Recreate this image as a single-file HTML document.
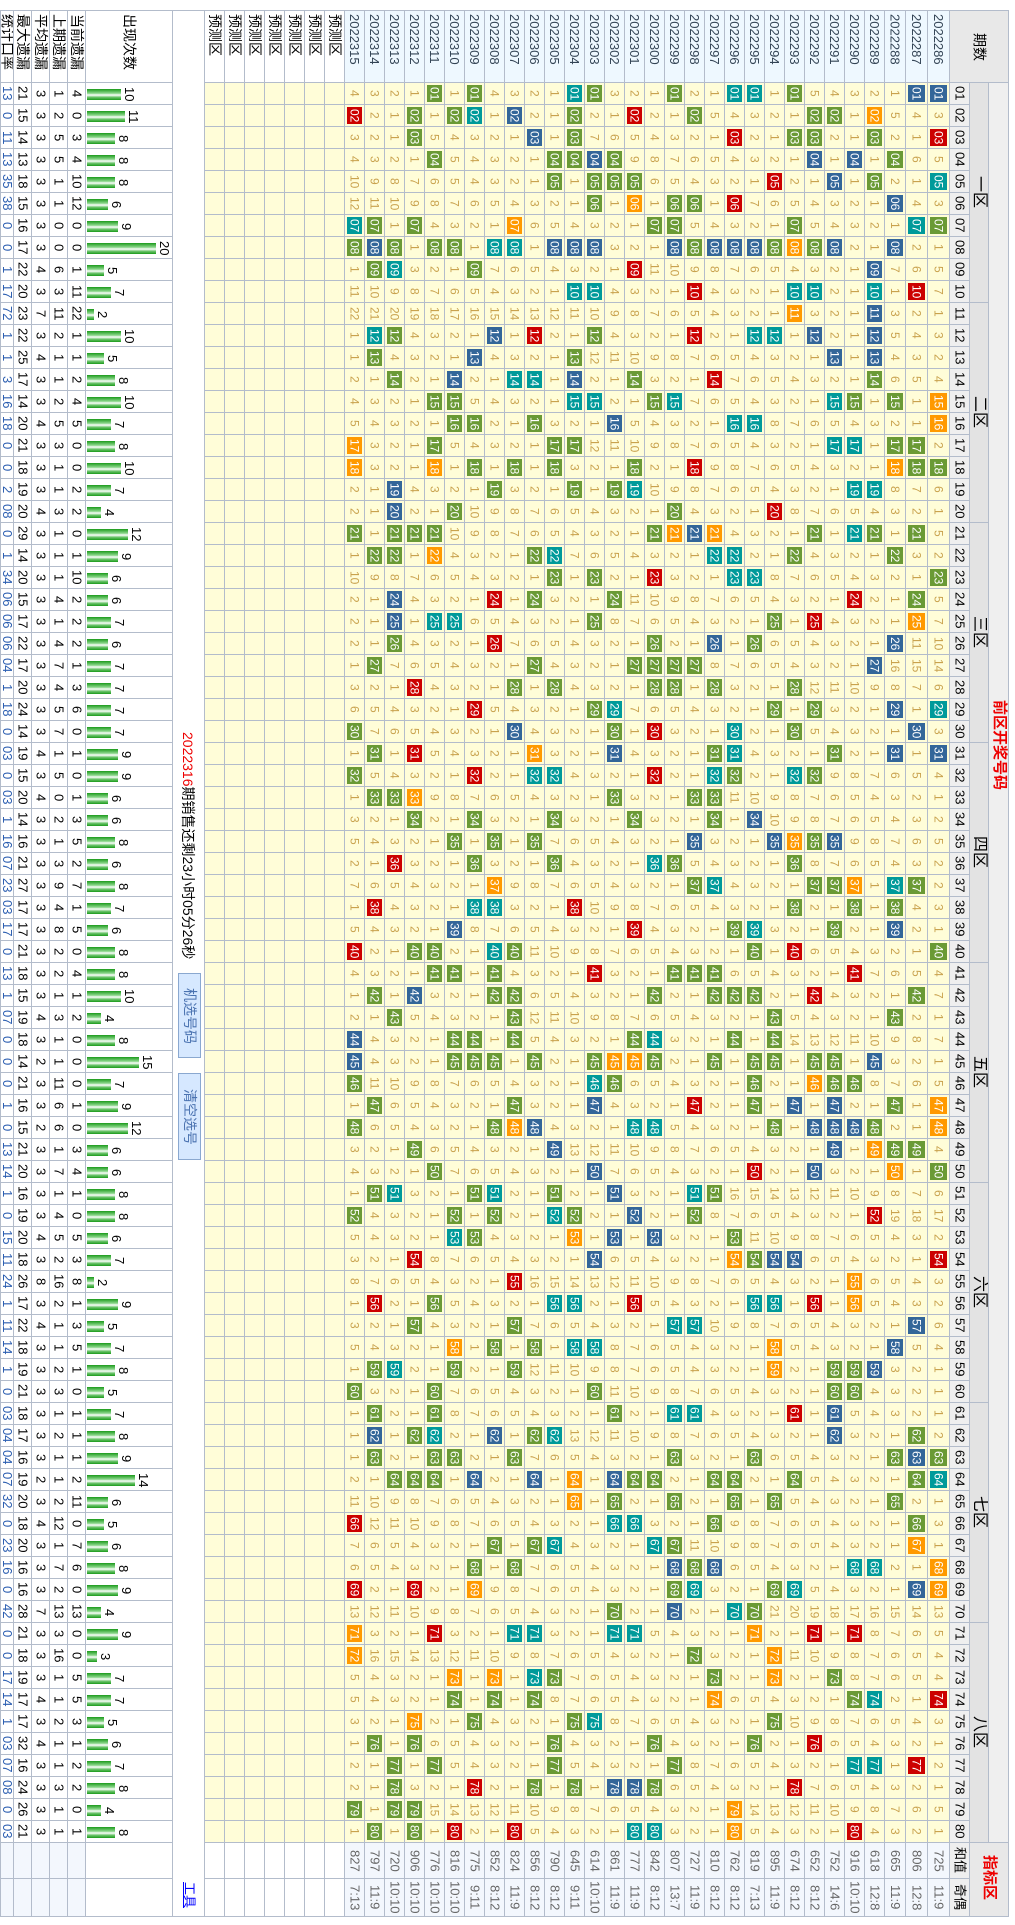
<!DOCTYPE html>
<html><head><meta charset="utf-8"><style>
body{margin:0;width:1015px;height:1925px;background:#fff;overflow:hidden;position:relative;font-family:"Liberation Sans","Noto Sans CJK SC",sans-serif}
table{position:absolute;left:0;top:10px;border-collapse:collapse;table-layout:fixed;width:1009px}
td{border:1px solid #b3bccb;padding:0;writing-mode:vertical-rl;text-orientation:sideways;text-align:center;font-size:12px;line-height:18px;background:#fffdd8;color:#c9a24e;overflow:hidden;white-space:nowrap}
tr.d{height:22px}
tr.d td:nth-child(-n+5){background:#fff;color:#000;font-size:13px}
tr.d td:nth-child(1){color:#2a5db0}
tr.d td:nth-child(6){writing-mode:horizontal-tb;background:#fff;text-align:left;color:#000}
tr.d td:nth-child(6) i{display:inline-block;height:11px;vertical-align:middle;margin-left:1px;background:linear-gradient(#1a9a1a,#8fd88f 40%,#fff 55%,#6cc46c 75%,#1a9a1a)}
tr.d td:nth-child(6) b{display:inline-block;writing-mode:vertical-rl;text-orientation:sideways;font-weight:normal;font-size:13px;vertical-align:middle;margin-left:2px;line-height:13px}
td.g{background:#6a9a35;color:#fff;box-shadow:inset 0 0 0 2px #fffdd8}
td.b{background:#336699;color:#fff;box-shadow:inset 0 0 0 2px #fffdd8}
td.t{background:#009a9a;color:#fff;box-shadow:inset 0 0 0 2px #fffdd8}
td.r{background:#cc0000;color:#fff;box-shadow:inset 0 0 0 2px #fffdd8}
td.o{background:#ff9900;color:#fff;box-shadow:inset 0 0 0 2px #fffdd8}
td.n{background:#efefef;color:#000;font-size:13px}
td.z{background:#e3e3e3;color:#000;font-size:16px}
td.q{background:#efefef}
tr.hd{height:72px}
tr.hd td{background:#fff;color:#000;font-size:14px;text-align:start;padding-top:3px;line-height:17px}
tr.hd td.dl{background:#eef8ff;color:#345;font-size:13px}
tr.hd td.qs{background:#e8e8e8;text-align:center;padding:0}
tr.hd td.inf{background:#fff}
tr.bt td{background:#f3f7fd;color:#666;font-size:13px}
tr.bt td.w{background:#fff}
tr.bt td.n{background:#efefef;color:#000}
tr.bt td.z{background:#e8e8e8}
.ov{position:absolute;writing-mode:vertical-rl;text-orientation:sideways;white-space:nowrap}
.btn{position:absolute;width:21px;background:#d6e8ff;border:1px solid #8aa8d0;color:#4a72b0;font-size:14px;writing-mode:vertical-rl;text-orientation:sideways;text-align:center;line-height:20px}
</style></head><body>
<table>
<colgroup><col style="width:13px"><col style="width:18px"><col style="width:18px"><col style="width:18px"><col style="width:18px"><col style="width:87px"><col style="width:32px"><col style="width:20px"><col style="width:20px"><col style="width:20px"><col style="width:20px"><col style="width:20px"><col style="width:20px"><col style="width:20px"><col style="width:20px"><col style="width:20px"><col style="width:20px"><col style="width:20px"><col style="width:20px"><col style="width:20px"><col style="width:20px"><col style="width:20px"><col style="width:20px"><col style="width:20px"><col style="width:20px"><col style="width:20px"><col style="width:20px"><col style="width:20px"><col style="width:20px"><col style="width:20px"><col style="width:20px"><col style="width:20px"><col style="width:20px"><col style="width:20px"><col style="width:20px"><col style="width:20px"><col style="width:20px"><col style="width:20px"><col style="width:20px"><col style="width:20px"><col style="width:20px"><col style="width:21px"><col style="width:22px"><col style="width:22px"></colgroup>
<tr class="hd"><td>统计口率</td><td>最大遗漏</td><td>平均遗漏</td><td>上期遗漏</td><td>当前遗漏</td><td>出现次数</td><td class="inf" rowspan="83"></td><td>预测区</td><td>预测区</td><td>预测区</td><td>预测区</td><td>预测区</td><td>预测区</td><td>预测区</td><td class="dl">2022315</td><td class="dl">2022314</td><td class="dl">2022313</td><td class="dl">2022312</td><td class="dl">2022311</td><td class="dl">2022310</td><td class="dl">2022309</td><td class="dl">2022308</td><td class="dl">2022307</td><td class="dl">2022306</td><td class="dl">2022305</td><td class="dl">2022304</td><td class="dl">2022303</td><td class="dl">2022302</td><td class="dl">2022301</td><td class="dl">2022300</td><td class="dl">2022299</td><td class="dl">2022298</td><td class="dl">2022297</td><td class="dl">2022296</td><td class="dl">2022295</td><td class="dl">2022294</td><td class="dl">2022293</td><td class="dl">2022292</td><td class="dl">2022291</td><td class="dl">2022290</td><td class="dl">2022289</td><td class="dl">2022288</td><td class="dl">2022287</td><td class="dl">2022286</td><td class="qs" colspan="3">期数</td></tr>
<tr class="d"><td>13</td><td>21</td><td>3</td><td>1</td><td>4</td><td><i style="width:34px"></i><b>10</b></td><td></td><td></td><td></td><td></td><td></td><td></td><td></td><td>4</td><td>3</td><td>2</td><td>1</td><td class="g">01</td><td>1</td><td class="g">01</td><td>4</td><td>3</td><td>2</td><td>1</td><td class="t">01</td><td class="g">01</td><td>3</td><td>2</td><td>1</td><td class="g">01</td><td>2</td><td>1</td><td class="t">01</td><td class="t">01</td><td>1</td><td class="g">01</td><td>5</td><td>4</td><td>3</td><td>2</td><td>1</td><td class="b">01</td><td class="b">01</td><td class="n">01</td><td class="z" rowspan="10">一区</td><td class="q" rowspan="80"></td></tr>
<tr class="d"><td>0</td><td>15</td><td>3</td><td>2</td><td>0</td><td><i style="width:38px"></i><b>11</b></td><td></td><td></td><td></td><td></td><td></td><td></td><td></td><td class="r">02</td><td>2</td><td>1</td><td class="g">02</td><td>1</td><td class="g">02</td><td class="t">02</td><td>1</td><td class="b">02</td><td>2</td><td>1</td><td class="g">02</td><td>2</td><td>1</td><td class="r">02</td><td>2</td><td>1</td><td class="g">02</td><td>5</td><td>4</td><td>3</td><td>2</td><td>1</td><td class="g">02</td><td class="g">02</td><td>1</td><td class="o">02</td><td>5</td><td>4</td><td>3</td><td class="n">02</td></tr>
<tr class="d"><td>11</td><td>14</td><td>3</td><td>5</td><td>3</td><td><i style="width:28px"></i><b>8</b></td><td></td><td></td><td></td><td></td><td></td><td></td><td></td><td>3</td><td>2</td><td>1</td><td class="g">03</td><td>5</td><td>4</td><td>3</td><td>2</td><td>1</td><td class="b">03</td><td>1</td><td class="g">03</td><td>7</td><td>6</td><td>5</td><td>4</td><td>3</td><td>2</td><td>1</td><td class="r">03</td><td>2</td><td>1</td><td class="g">03</td><td class="g">03</td><td>2</td><td>1</td><td class="g">03</td><td>2</td><td>1</td><td class="r">03</td><td class="n">03</td></tr>
<tr class="d"><td>13</td><td>13</td><td>3</td><td>5</td><td>4</td><td><i style="width:28px"></i><b>8</b></td><td></td><td></td><td></td><td></td><td></td><td></td><td></td><td>4</td><td>3</td><td>2</td><td>1</td><td class="g">04</td><td>5</td><td>4</td><td>3</td><td>2</td><td>1</td><td class="g">04</td><td class="g">04</td><td class="b">04</td><td class="g">04</td><td>9</td><td>8</td><td>7</td><td>6</td><td>5</td><td>4</td><td>3</td><td>2</td><td>1</td><td class="b">04</td><td>1</td><td class="b">04</td><td>1</td><td class="g">04</td><td>6</td><td>5</td><td class="n">04</td></tr>
<tr class="d"><td>35</td><td>18</td><td>3</td><td>1</td><td>10</td><td><i style="width:28px"></i><b>8</b></td><td></td><td></td><td></td><td></td><td></td><td></td><td></td><td>10</td><td>9</td><td>8</td><td>7</td><td>6</td><td>5</td><td>4</td><td>3</td><td>2</td><td>1</td><td class="g">05</td><td>1</td><td class="g">05</td><td class="g">05</td><td class="g">05</td><td>6</td><td>5</td><td>4</td><td>3</td><td>2</td><td>1</td><td class="r">05</td><td>2</td><td>1</td><td class="b">05</td><td>1</td><td class="g">05</td><td>2</td><td>1</td><td class="t">05</td><td class="n">05</td></tr>
<tr class="d"><td>38</td><td>15</td><td>3</td><td>1</td><td>12</td><td><i style="width:21px"></i><b>6</b></td><td></td><td></td><td></td><td></td><td></td><td></td><td></td><td>12</td><td>11</td><td>10</td><td>9</td><td>8</td><td>7</td><td>6</td><td>5</td><td>4</td><td>3</td><td>2</td><td>1</td><td class="g">06</td><td>1</td><td class="o">06</td><td>1</td><td class="g">06</td><td class="g">06</td><td>1</td><td class="r">06</td><td>7</td><td>6</td><td>5</td><td>4</td><td>3</td><td>2</td><td>1</td><td class="b">06</td><td>4</td><td>3</td><td class="n">06</td></tr>
<tr class="d"><td>0</td><td>16</td><td>3</td><td>0</td><td>0</td><td><i style="width:31px"></i><b>9</b></td><td></td><td></td><td></td><td></td><td></td><td></td><td></td><td class="t">07</td><td class="g">07</td><td>1</td><td class="g">07</td><td>4</td><td>3</td><td>2</td><td>1</td><td class="o">07</td><td>6</td><td>5</td><td>4</td><td>3</td><td>2</td><td>1</td><td class="g">07</td><td class="g">07</td><td>5</td><td>4</td><td>3</td><td>2</td><td>1</td><td class="g">07</td><td>5</td><td>4</td><td>3</td><td>2</td><td>1</td><td class="t">07</td><td class="g">07</td><td class="n">07</td></tr>
<tr class="d"><td>0</td><td>17</td><td>3</td><td>0</td><td>0</td><td><i style="width:69px"></i><b>20</b></td><td></td><td></td><td></td><td></td><td></td><td></td><td></td><td class="g">08</td><td class="b">08</td><td class="g">08</td><td>1</td><td class="g">08</td><td class="g">08</td><td>1</td><td class="t">08</td><td class="t">08</td><td>1</td><td class="b">08</td><td class="b">08</td><td class="b">08</td><td>3</td><td>2</td><td>1</td><td class="b">08</td><td class="g">08</td><td class="b">08</td><td class="b">08</td><td class="b">08</td><td class="g">08</td><td class="o">08</td><td class="g">08</td><td class="b">08</td><td>2</td><td>1</td><td class="b">08</td><td>2</td><td>1</td><td class="n">08</td></tr>
<tr class="d"><td>1</td><td>22</td><td>4</td><td>6</td><td>1</td><td><i style="width:17px"></i><b>5</b></td><td></td><td></td><td></td><td></td><td></td><td></td><td></td><td>1</td><td class="g">09</td><td class="t">09</td><td>3</td><td>2</td><td>1</td><td class="g">09</td><td>7</td><td>6</td><td>5</td><td>4</td><td>3</td><td>2</td><td>1</td><td class="r">09</td><td>11</td><td>10</td><td>9</td><td>8</td><td>7</td><td>6</td><td>5</td><td>4</td><td>3</td><td>2</td><td>1</td><td class="b">09</td><td>7</td><td>6</td><td>5</td><td class="n">09</td></tr>
<tr class="d"><td>17</td><td>20</td><td>3</td><td>3</td><td>11</td><td><i style="width:24px"></i><b>7</b></td><td></td><td></td><td></td><td></td><td></td><td></td><td></td><td>11</td><td>10</td><td>9</td><td>8</td><td>7</td><td>6</td><td>5</td><td>4</td><td>3</td><td>2</td><td>1</td><td class="t">10</td><td class="t">10</td><td>4</td><td>3</td><td>2</td><td>1</td><td class="r">10</td><td>4</td><td>3</td><td>2</td><td>1</td><td class="t">10</td><td class="t">10</td><td>2</td><td>1</td><td class="t">10</td><td>1</td><td class="r">10</td><td>7</td><td class="n">10</td></tr>
<tr class="d"><td>72</td><td>23</td><td>7</td><td>11</td><td>22</td><td><i style="width:7px"></i><b>2</b></td><td></td><td></td><td></td><td></td><td></td><td></td><td></td><td>22</td><td>21</td><td>20</td><td>19</td><td>18</td><td>17</td><td>16</td><td>15</td><td>14</td><td>13</td><td>12</td><td>11</td><td>10</td><td>9</td><td>8</td><td>7</td><td>6</td><td>5</td><td>4</td><td>3</td><td>2</td><td>1</td><td class="o">11</td><td>3</td><td>2</td><td>1</td><td class="b">11</td><td>3</td><td>2</td><td>1</td><td class="n">11</td><td class="z" rowspan="10">二区</td></tr>
<tr class="d"><td>1</td><td>22</td><td>3</td><td>2</td><td>1</td><td><i style="width:34px"></i><b>10</b></td><td></td><td></td><td></td><td></td><td></td><td></td><td></td><td>1</td><td class="t">12</td><td class="g">12</td><td>4</td><td>3</td><td>2</td><td>1</td><td class="b">12</td><td>1</td><td class="r">12</td><td>2</td><td>1</td><td class="g">12</td><td>4</td><td>3</td><td>2</td><td>1</td><td class="r">12</td><td>2</td><td>1</td><td class="t">12</td><td class="t">12</td><td>1</td><td class="b">12</td><td>2</td><td>1</td><td class="b">12</td><td>5</td><td>4</td><td>3</td><td class="n">12</td></tr>
<tr class="d"><td>1</td><td>25</td><td>4</td><td>1</td><td>1</td><td><i style="width:17px"></i><b>5</b></td><td></td><td></td><td></td><td></td><td></td><td></td><td></td><td>1</td><td class="g">13</td><td>4</td><td>3</td><td>2</td><td>1</td><td class="b">13</td><td>4</td><td>3</td><td>2</td><td>1</td><td class="g">13</td><td>12</td><td>11</td><td>10</td><td>9</td><td>8</td><td>7</td><td>6</td><td>5</td><td>4</td><td>3</td><td>2</td><td>1</td><td class="b">13</td><td>1</td><td class="b">13</td><td>4</td><td>3</td><td>2</td><td class="n">13</td></tr>
<tr class="d"><td>3</td><td>17</td><td>3</td><td>1</td><td>2</td><td><i style="width:28px"></i><b>8</b></td><td></td><td></td><td></td><td></td><td></td><td></td><td></td><td>2</td><td>1</td><td class="g">14</td><td>2</td><td>1</td><td class="b">14</td><td>2</td><td>1</td><td class="t">14</td><td class="t">14</td><td>1</td><td class="b">14</td><td>2</td><td>1</td><td class="g">14</td><td>3</td><td>2</td><td>1</td><td class="r">14</td><td>7</td><td>6</td><td>5</td><td>4</td><td>3</td><td>2</td><td>1</td><td class="g">14</td><td>6</td><td>5</td><td>4</td><td class="n">14</td></tr>
<tr class="d"><td>16</td><td>14</td><td>3</td><td>2</td><td>4</td><td><i style="width:34px"></i><b>10</b></td><td></td><td></td><td></td><td></td><td></td><td></td><td></td><td>4</td><td>3</td><td>2</td><td>1</td><td class="g">15</td><td class="g">15</td><td>5</td><td>4</td><td>3</td><td>2</td><td>1</td><td class="t">15</td><td class="t">15</td><td>2</td><td>1</td><td class="g">15</td><td class="t">15</td><td>7</td><td>6</td><td>5</td><td>4</td><td>3</td><td>2</td><td>1</td><td class="t">15</td><td class="g">15</td><td>1</td><td class="g">15</td><td>1</td><td class="o">15</td><td class="n">15</td></tr>
<tr class="d"><td>18</td><td>20</td><td>4</td><td>5</td><td>5</td><td><i style="width:24px"></i><b>7</b></td><td></td><td></td><td></td><td></td><td></td><td></td><td></td><td>5</td><td>4</td><td>3</td><td>2</td><td>1</td><td class="g">16</td><td class="g">16</td><td>2</td><td>1</td><td class="g">16</td><td>3</td><td>2</td><td>1</td><td class="b">16</td><td>5</td><td>4</td><td>3</td><td>2</td><td>1</td><td class="t">16</td><td class="t">16</td><td>8</td><td>7</td><td>6</td><td>5</td><td>4</td><td>3</td><td>2</td><td>1</td><td class="o">16</td><td class="n">16</td></tr>
<tr class="d"><td>0</td><td>21</td><td>3</td><td>3</td><td>0</td><td><i style="width:28px"></i><b>8</b></td><td></td><td></td><td></td><td></td><td></td><td></td><td></td><td class="o">17</td><td>3</td><td>2</td><td>1</td><td class="g">17</td><td>5</td><td>4</td><td>3</td><td>2</td><td>1</td><td class="g">17</td><td class="g">17</td><td>12</td><td>11</td><td>10</td><td>9</td><td>8</td><td>7</td><td>6</td><td>5</td><td>4</td><td>3</td><td>2</td><td>1</td><td class="t">17</td><td class="t">17</td><td>1</td><td class="g">17</td><td class="g">17</td><td>2</td><td class="n">17</td></tr>
<tr class="d"><td>0</td><td>18</td><td>3</td><td>1</td><td>0</td><td><i style="width:34px"></i><b>10</b></td><td></td><td></td><td></td><td></td><td></td><td></td><td></td><td class="o">18</td><td>3</td><td>2</td><td>1</td><td class="o">18</td><td>1</td><td class="g">18</td><td>1</td><td class="g">18</td><td>1</td><td class="g">18</td><td>3</td><td>2</td><td>1</td><td class="g">18</td><td>2</td><td>1</td><td class="r">18</td><td>9</td><td>8</td><td>7</td><td>6</td><td>5</td><td>4</td><td>3</td><td>2</td><td>1</td><td class="o">18</td><td class="g">18</td><td class="g">18</td><td class="n">18</td></tr>
<tr class="d"><td>2</td><td>19</td><td>3</td><td>1</td><td>2</td><td><i style="width:24px"></i><b>7</b></td><td></td><td></td><td></td><td></td><td></td><td></td><td></td><td>2</td><td>1</td><td class="b">19</td><td>4</td><td>3</td><td>2</td><td>1</td><td class="g">19</td><td>3</td><td>2</td><td>1</td><td class="g">19</td><td>1</td><td class="g">19</td><td class="t">19</td><td>10</td><td>9</td><td>8</td><td>7</td><td>6</td><td>5</td><td>4</td><td>3</td><td>2</td><td>1</td><td class="t">19</td><td class="t">19</td><td>8</td><td>7</td><td>6</td><td class="n">19</td></tr>
<tr class="d"><td>08</td><td>20</td><td>4</td><td>3</td><td>2</td><td><i style="width:14px"></i><b>4</b></td><td></td><td></td><td></td><td></td><td></td><td></td><td></td><td>2</td><td>1</td><td class="b">20</td><td>2</td><td>1</td><td class="g">20</td><td>10</td><td>9</td><td>8</td><td>7</td><td>6</td><td>5</td><td>4</td><td>3</td><td>2</td><td>1</td><td class="g">20</td><td>4</td><td>3</td><td>2</td><td>1</td><td class="r">20</td><td>8</td><td>7</td><td>6</td><td>5</td><td>4</td><td>3</td><td>2</td><td>1</td><td class="n">20</td></tr>
<tr class="d"><td>0</td><td>29</td><td>3</td><td>1</td><td>0</td><td><i style="width:41px"></i><b>12</b></td><td></td><td></td><td></td><td></td><td></td><td></td><td></td><td class="g">21</td><td>1</td><td class="g">21</td><td class="g">21</td><td class="g">21</td><td>10</td><td>9</td><td>8</td><td>7</td><td>6</td><td>5</td><td>4</td><td>3</td><td>2</td><td>1</td><td class="g">21</td><td class="o">21</td><td class="b">21</td><td class="o">21</td><td>4</td><td>3</td><td>2</td><td>1</td><td class="g">21</td><td>1</td><td class="t">21</td><td class="g">21</td><td>1</td><td class="g">21</td><td>5</td><td class="n">21</td><td class="z" rowspan="10">三区</td></tr>
<tr class="d"><td>1</td><td>14</td><td>3</td><td>1</td><td>1</td><td><i style="width:31px"></i><b>9</b></td><td></td><td></td><td></td><td></td><td></td><td></td><td></td><td>1</td><td class="g">22</td><td class="g">22</td><td>1</td><td class="o">22</td><td>4</td><td>3</td><td>2</td><td>1</td><td class="g">22</td><td class="t">22</td><td>7</td><td>6</td><td>5</td><td>4</td><td>3</td><td>2</td><td>1</td><td class="t">22</td><td class="t">22</td><td>2</td><td>1</td><td class="g">22</td><td>4</td><td>3</td><td>2</td><td>1</td><td class="g">22</td><td>3</td><td>2</td><td class="n">22</td></tr>
<tr class="d"><td>34</td><td>20</td><td>3</td><td>1</td><td>10</td><td><i style="width:21px"></i><b>6</b></td><td></td><td></td><td></td><td></td><td></td><td></td><td></td><td>10</td><td>9</td><td>8</td><td>7</td><td>6</td><td>5</td><td>4</td><td>3</td><td>2</td><td>1</td><td class="g">23</td><td>1</td><td class="g">23</td><td>2</td><td>1</td><td class="r">23</td><td>3</td><td>2</td><td>1</td><td class="t">23</td><td class="t">23</td><td>8</td><td>7</td><td>6</td><td>5</td><td>4</td><td>3</td><td>2</td><td>1</td><td class="g">23</td><td class="n">23</td></tr>
<tr class="d"><td>06</td><td>15</td><td>3</td><td>4</td><td>2</td><td><i style="width:21px"></i><b>6</b></td><td></td><td></td><td></td><td></td><td></td><td></td><td></td><td>2</td><td>1</td><td class="b">24</td><td>4</td><td>3</td><td>2</td><td>1</td><td class="r">24</td><td>1</td><td class="g">24</td><td>3</td><td>2</td><td>1</td><td class="g">24</td><td>11</td><td>10</td><td>9</td><td>8</td><td>7</td><td>6</td><td>5</td><td>4</td><td>3</td><td>2</td><td>1</td><td class="r">24</td><td>2</td><td>1</td><td class="g">24</td><td>5</td><td class="n">24</td></tr>
<tr class="d"><td>06</td><td>17</td><td>3</td><td>1</td><td>2</td><td><i style="width:24px"></i><b>7</b></td><td></td><td></td><td></td><td></td><td></td><td></td><td></td><td>2</td><td>1</td><td class="b">25</td><td>1</td><td class="t">25</td><td class="t">25</td><td>6</td><td>5</td><td>4</td><td>3</td><td>2</td><td>1</td><td class="g">25</td><td>8</td><td>7</td><td>6</td><td>5</td><td>4</td><td>3</td><td>2</td><td>1</td><td class="g">25</td><td>1</td><td class="r">25</td><td>4</td><td>3</td><td>2</td><td>1</td><td class="o">25</td><td>7</td><td class="n">25</td></tr>
<tr class="d"><td>06</td><td>22</td><td>3</td><td>4</td><td>2</td><td><i style="width:21px"></i><b>6</b></td><td></td><td></td><td></td><td></td><td></td><td></td><td></td><td>2</td><td>1</td><td class="g">26</td><td>4</td><td>3</td><td>2</td><td>1</td><td class="r">26</td><td>7</td><td>6</td><td>5</td><td>4</td><td>3</td><td>2</td><td>1</td><td class="g">26</td><td>2</td><td>1</td><td class="b">26</td><td>1</td><td class="g">26</td><td>6</td><td>5</td><td>4</td><td>3</td><td>2</td><td>1</td><td class="b">26</td><td>11</td><td>10</td><td class="n">26</td></tr>
<tr class="d"><td>04</td><td>17</td><td>3</td><td>7</td><td>1</td><td><i style="width:24px"></i><b>7</b></td><td></td><td></td><td></td><td></td><td></td><td></td><td></td><td>1</td><td class="g">27</td><td>7</td><td>6</td><td>5</td><td>4</td><td>3</td><td>2</td><td>1</td><td class="g">27</td><td>4</td><td>3</td><td>2</td><td>1</td><td class="g">27</td><td class="g">27</td><td class="g">27</td><td class="g">27</td><td>8</td><td>7</td><td>6</td><td>5</td><td>4</td><td>3</td><td>2</td><td>1</td><td class="b">27</td><td>16</td><td>15</td><td>14</td><td class="n">27</td></tr>
<tr class="d"><td>1</td><td>20</td><td>3</td><td>4</td><td>3</td><td><i style="width:24px"></i><b>7</b></td><td></td><td></td><td></td><td></td><td></td><td></td><td></td><td>3</td><td>2</td><td>1</td><td class="r">28</td><td>4</td><td>3</td><td>2</td><td>1</td><td class="g">28</td><td>1</td><td class="g">28</td><td>4</td><td>3</td><td>2</td><td>1</td><td class="g">28</td><td class="g">28</td><td>1</td><td class="g">28</td><td>3</td><td>2</td><td>1</td><td class="g">28</td><td>12</td><td>11</td><td>10</td><td>9</td><td>8</td><td>7</td><td>6</td><td class="n">28</td></tr>
<tr class="d"><td>18</td><td>24</td><td>3</td><td>5</td><td>6</td><td><i style="width:24px"></i><b>7</b></td><td></td><td></td><td></td><td></td><td></td><td></td><td></td><td>6</td><td>5</td><td>4</td><td>3</td><td>2</td><td>1</td><td class="r">29</td><td>5</td><td>4</td><td>3</td><td>2</td><td>1</td><td class="g">29</td><td class="t">29</td><td>7</td><td>6</td><td>5</td><td>4</td><td>3</td><td>2</td><td>1</td><td class="g">29</td><td>1</td><td class="g">29</td><td>3</td><td>2</td><td>1</td><td class="b">29</td><td>1</td><td class="t">29</td><td class="n">29</td></tr>
<tr class="d"><td>0</td><td>14</td><td>3</td><td>7</td><td>0</td><td><i style="width:24px"></i><b>7</b></td><td></td><td></td><td></td><td></td><td></td><td></td><td></td><td class="g">30</td><td>7</td><td>6</td><td>5</td><td>4</td><td>3</td><td>2</td><td>1</td><td class="b">30</td><td>4</td><td>3</td><td>2</td><td>1</td><td class="g">30</td><td>1</td><td class="r">30</td><td>3</td><td>2</td><td>1</td><td class="t">30</td><td>2</td><td>1</td><td class="g">30</td><td>5</td><td>4</td><td>3</td><td>2</td><td>1</td><td class="b">30</td><td>3</td><td class="n">30</td></tr>
<tr class="d"><td>03</td><td>19</td><td>4</td><td>1</td><td>1</td><td><i style="width:31px"></i><b>9</b></td><td></td><td></td><td></td><td></td><td></td><td></td><td></td><td>1</td><td class="g">31</td><td>1</td><td class="r">31</td><td>5</td><td>4</td><td>3</td><td>2</td><td>1</td><td class="o">31</td><td>3</td><td>2</td><td>1</td><td class="b">31</td><td>4</td><td>3</td><td>2</td><td>1</td><td class="g">31</td><td class="t">31</td><td>4</td><td>3</td><td>2</td><td>1</td><td class="g">31</td><td>2</td><td>1</td><td class="b">31</td><td>1</td><td class="b">31</td><td class="n">31</td><td class="z" rowspan="10">四区</td></tr>
<tr class="d"><td>0</td><td>15</td><td>3</td><td>5</td><td>0</td><td><i style="width:31px"></i><b>9</b></td><td></td><td></td><td></td><td></td><td></td><td></td><td></td><td class="g">32</td><td>5</td><td>4</td><td>3</td><td>2</td><td>1</td><td class="r">32</td><td>2</td><td>1</td><td class="t">32</td><td class="t">32</td><td>4</td><td>3</td><td>2</td><td>1</td><td class="r">32</td><td>2</td><td>1</td><td class="t">32</td><td class="g">32</td><td>2</td><td>1</td><td class="t">32</td><td class="g">32</td><td>9</td><td>8</td><td>7</td><td>6</td><td>5</td><td>4</td><td class="n">32</td></tr>
<tr class="d"><td>03</td><td>20</td><td>4</td><td>0</td><td>1</td><td><i style="width:21px"></i><b>6</b></td><td></td><td></td><td></td><td></td><td></td><td></td><td></td><td>1</td><td class="g">33</td><td class="g">33</td><td class="o">33</td><td>9</td><td>8</td><td>7</td><td>6</td><td>5</td><td>4</td><td>3</td><td>2</td><td>1</td><td class="g">33</td><td>3</td><td>2</td><td>1</td><td class="g">33</td><td class="g">33</td><td>11</td><td>10</td><td>9</td><td>8</td><td>7</td><td>6</td><td>5</td><td>4</td><td>3</td><td>2</td><td>1</td><td class="n">33</td></tr>
<tr class="d"><td>1</td><td>14</td><td>3</td><td>2</td><td>3</td><td><i style="width:21px"></i><b>6</b></td><td></td><td></td><td></td><td></td><td></td><td></td><td></td><td>3</td><td>2</td><td>1</td><td class="g">34</td><td>2</td><td>1</td><td class="g">34</td><td>3</td><td>2</td><td>1</td><td class="g">34</td><td>3</td><td>2</td><td>1</td><td class="g">34</td><td>3</td><td>2</td><td>1</td><td class="g">34</td><td>1</td><td class="b">34</td><td>10</td><td>9</td><td>8</td><td>7</td><td>6</td><td>5</td><td>4</td><td>3</td><td>2</td><td class="n">34</td></tr>
<tr class="d"><td>16</td><td>16</td><td>3</td><td>1</td><td>5</td><td><i style="width:28px"></i><b>8</b></td><td></td><td></td><td></td><td></td><td></td><td></td><td></td><td>5</td><td>4</td><td>3</td><td>2</td><td>1</td><td class="g">35</td><td>1</td><td class="g">35</td><td>1</td><td class="g">35</td><td>7</td><td>6</td><td>5</td><td>4</td><td>3</td><td>2</td><td>1</td><td class="b">35</td><td>3</td><td>2</td><td>1</td><td class="b">35</td><td class="o">35</td><td class="g">35</td><td class="b">35</td><td>9</td><td>8</td><td>7</td><td>6</td><td>5</td><td class="n">35</td></tr>
<tr class="d"><td>07</td><td>21</td><td>3</td><td>3</td><td>2</td><td><i style="width:21px"></i><b>6</b></td><td></td><td></td><td></td><td></td><td></td><td></td><td></td><td>2</td><td>1</td><td class="r">36</td><td>3</td><td>2</td><td>1</td><td class="g">36</td><td>3</td><td>2</td><td>1</td><td class="g">36</td><td>4</td><td>3</td><td>2</td><td>1</td><td class="t">36</td><td class="g">36</td><td>5</td><td>4</td><td>3</td><td>2</td><td>1</td><td class="g">36</td><td>8</td><td>7</td><td>6</td><td>5</td><td>4</td><td>3</td><td>2</td><td class="n">36</td></tr>
<tr class="d"><td>23</td><td>27</td><td>3</td><td>9</td><td>7</td><td><i style="width:28px"></i><b>8</b></td><td></td><td></td><td></td><td></td><td></td><td></td><td></td><td>7</td><td>6</td><td>5</td><td>4</td><td>3</td><td>2</td><td>1</td><td class="o">37</td><td>9</td><td>8</td><td>7</td><td>6</td><td>5</td><td>4</td><td>3</td><td>2</td><td>1</td><td class="g">37</td><td class="t">37</td><td>4</td><td>3</td><td>2</td><td>1</td><td class="g">37</td><td class="g">37</td><td class="o">37</td><td>1</td><td class="t">37</td><td class="g">37</td><td>2</td><td class="n">37</td></tr>
<tr class="d"><td>03</td><td>17</td><td>3</td><td>4</td><td>1</td><td><i style="width:24px"></i><b>7</b></td><td></td><td></td><td></td><td></td><td></td><td></td><td></td><td>1</td><td class="r">38</td><td>4</td><td>3</td><td>2</td><td>1</td><td class="t">38</td><td class="t">38</td><td>3</td><td>2</td><td>1</td><td class="r">38</td><td>10</td><td>9</td><td>8</td><td>7</td><td>6</td><td>5</td><td>4</td><td>3</td><td>2</td><td>1</td><td class="g">38</td><td>2</td><td>1</td><td class="g">38</td><td>1</td><td class="g">38</td><td>4</td><td>3</td><td class="n">38</td></tr>
<tr class="d"><td>17</td><td>17</td><td>3</td><td>8</td><td>5</td><td><i style="width:21px"></i><b>6</b></td><td></td><td></td><td></td><td></td><td></td><td></td><td></td><td>5</td><td>4</td><td>3</td><td>2</td><td>1</td><td class="b">39</td><td>8</td><td>7</td><td>6</td><td>5</td><td>4</td><td>3</td><td>2</td><td>1</td><td class="r">39</td><td>4</td><td>3</td><td>2</td><td>1</td><td class="g">39</td><td class="t">39</td><td>3</td><td>2</td><td>1</td><td class="g">39</td><td>2</td><td>1</td><td class="b">39</td><td>2</td><td>1</td><td class="n">39</td></tr>
<tr class="d"><td>0</td><td>21</td><td>3</td><td>2</td><td>0</td><td><i style="width:28px"></i><b>8</b></td><td></td><td></td><td></td><td></td><td></td><td></td><td></td><td class="r">40</td><td>2</td><td>1</td><td class="g">40</td><td class="g">40</td><td>2</td><td>1</td><td class="t">40</td><td class="g">40</td><td>11</td><td>10</td><td>9</td><td>8</td><td>7</td><td>6</td><td>5</td><td>4</td><td>3</td><td>2</td><td>1</td><td class="g">40</td><td>1</td><td class="r">40</td><td>6</td><td>5</td><td>4</td><td>3</td><td>2</td><td>1</td><td class="g">40</td><td class="n">40</td></tr>
<tr class="d"><td>13</td><td>18</td><td>3</td><td>2</td><td>4</td><td><i style="width:28px"></i><b>8</b></td><td></td><td></td><td></td><td></td><td></td><td></td><td></td><td>4</td><td>3</td><td>2</td><td>1</td><td class="g">41</td><td class="g">41</td><td>1</td><td class="g">41</td><td>4</td><td>3</td><td>2</td><td>1</td><td class="r">41</td><td>3</td><td>2</td><td>1</td><td class="g">41</td><td class="g">41</td><td class="g">41</td><td>6</td><td>5</td><td>4</td><td>3</td><td>2</td><td>1</td><td class="r">41</td><td>7</td><td>6</td><td>5</td><td>4</td><td class="n">41</td><td class="z" rowspan="10">五区</td></tr>
<tr class="d"><td>1</td><td>15</td><td>3</td><td>1</td><td>1</td><td><i style="width:34px"></i><b>10</b></td><td></td><td></td><td></td><td></td><td></td><td></td><td></td><td>1</td><td class="g">42</td><td>1</td><td class="b">42</td><td>3</td><td>2</td><td>1</td><td class="g">42</td><td class="g">42</td><td>6</td><td>5</td><td>4</td><td>3</td><td>2</td><td>1</td><td class="g">42</td><td>2</td><td>1</td><td class="g">42</td><td class="g">42</td><td class="g">42</td><td>2</td><td>1</td><td class="r">42</td><td>4</td><td>3</td><td>2</td><td>1</td><td class="g">42</td><td>7</td><td class="n">42</td></tr>
<tr class="d"><td>07</td><td>19</td><td>4</td><td>3</td><td>2</td><td><i style="width:14px"></i><b>4</b></td><td></td><td></td><td></td><td></td><td></td><td></td><td></td><td>2</td><td>1</td><td class="g">43</td><td>5</td><td>4</td><td>3</td><td>2</td><td>1</td><td class="g">43</td><td>12</td><td>11</td><td>10</td><td>9</td><td>8</td><td>7</td><td>6</td><td>5</td><td>4</td><td>3</td><td>2</td><td>1</td><td class="g">43</td><td>5</td><td>4</td><td>3</td><td>2</td><td>1</td><td class="g">43</td><td>2</td><td>1</td><td class="n">43</td></tr>
<tr class="d"><td>0</td><td>18</td><td>3</td><td>1</td><td>0</td><td><i style="width:28px"></i><b>8</b></td><td></td><td></td><td></td><td></td><td></td><td></td><td></td><td class="b">44</td><td>4</td><td>3</td><td>2</td><td>1</td><td class="g">44</td><td class="g">44</td><td>1</td><td class="g">44</td><td>5</td><td>4</td><td>3</td><td>2</td><td>1</td><td class="g">44</td><td class="t">44</td><td>3</td><td>2</td><td>1</td><td class="g">44</td><td>1</td><td class="g">44</td><td>14</td><td>13</td><td>12</td><td>11</td><td>10</td><td>9</td><td>8</td><td>7</td><td class="n">44</td></tr>
<tr class="d"><td>0</td><td>14</td><td>2</td><td>1</td><td>0</td><td><i style="width:52px"></i><b>15</b></td><td></td><td></td><td></td><td></td><td></td><td></td><td></td><td class="b">45</td><td>4</td><td>3</td><td>2</td><td>1</td><td class="g">45</td><td class="g">45</td><td class="g">45</td><td>1</td><td class="g">45</td><td>2</td><td>1</td><td class="g">45</td><td class="o">45</td><td class="o">45</td><td class="g">45</td><td>2</td><td>1</td><td class="g">45</td><td>1</td><td class="g">45</td><td class="g">45</td><td>1</td><td class="g">45</td><td class="g">45</td><td>1</td><td class="b">45</td><td>3</td><td>2</td><td>1</td><td class="n">45</td></tr>
<tr class="d"><td>0</td><td>21</td><td>3</td><td>11</td><td>0</td><td><i style="width:24px"></i><b>7</b></td><td></td><td></td><td></td><td></td><td></td><td></td><td></td><td class="g">46</td><td>11</td><td>10</td><td>9</td><td>8</td><td>7</td><td>6</td><td>5</td><td>4</td><td>3</td><td>2</td><td>1</td><td class="t">46</td><td class="g">46</td><td>6</td><td>5</td><td>4</td><td>3</td><td>2</td><td>1</td><td class="g">46</td><td>2</td><td>1</td><td class="o">46</td><td class="g">46</td><td class="g">46</td><td>8</td><td>7</td><td>6</td><td>5</td><td class="n">46</td></tr>
<tr class="d"><td>1</td><td>16</td><td>3</td><td>6</td><td>1</td><td><i style="width:31px"></i><b>9</b></td><td></td><td></td><td></td><td></td><td></td><td></td><td></td><td>1</td><td class="g">47</td><td>6</td><td>5</td><td>4</td><td>3</td><td>2</td><td>1</td><td class="g">47</td><td>3</td><td>2</td><td>1</td><td class="b">47</td><td>4</td><td>3</td><td>2</td><td>1</td><td class="r">47</td><td>2</td><td>1</td><td class="g">47</td><td>1</td><td class="b">47</td><td>1</td><td class="b">47</td><td>2</td><td>1</td><td class="g">47</td><td>1</td><td class="o">47</td><td class="n">47</td></tr>
<tr class="d"><td>0</td><td>15</td><td>2</td><td>6</td><td>0</td><td><i style="width:41px"></i><b>12</b></td><td></td><td></td><td></td><td></td><td></td><td></td><td></td><td class="g">48</td><td>6</td><td>5</td><td>4</td><td>3</td><td>2</td><td>1</td><td class="g">48</td><td class="o">48</td><td class="b">48</td><td>4</td><td>3</td><td>2</td><td>1</td><td class="t">48</td><td class="t">48</td><td>5</td><td>4</td><td>3</td><td>2</td><td>1</td><td class="g">48</td><td>1</td><td class="b">48</td><td class="b">48</td><td class="b">48</td><td class="g">48</td><td>2</td><td>1</td><td class="o">48</td><td class="n">48</td></tr>
<tr class="d"><td>13</td><td>21</td><td>3</td><td>1</td><td>3</td><td><i style="width:21px"></i><b>6</b></td><td></td><td></td><td></td><td></td><td></td><td></td><td></td><td>3</td><td>2</td><td>1</td><td class="g">49</td><td>6</td><td>5</td><td>4</td><td>3</td><td>2</td><td>1</td><td class="b">49</td><td>13</td><td>12</td><td>11</td><td>10</td><td>9</td><td>8</td><td>7</td><td>6</td><td>5</td><td>4</td><td>3</td><td>2</td><td>1</td><td class="b">49</td><td>1</td><td class="o">49</td><td class="g">49</td><td class="g">49</td><td>4</td><td class="n">49</td></tr>
<tr class="d"><td>14</td><td>20</td><td>3</td><td>7</td><td>4</td><td><i style="width:21px"></i><b>6</b></td><td></td><td></td><td></td><td></td><td></td><td></td><td></td><td>4</td><td>3</td><td>2</td><td>1</td><td class="g">50</td><td>7</td><td>6</td><td>5</td><td>4</td><td>3</td><td>2</td><td>1</td><td class="b">50</td><td>7</td><td>6</td><td>5</td><td>4</td><td>3</td><td>2</td><td>1</td><td class="r">50</td><td>2</td><td>1</td><td class="b">50</td><td>3</td><td>2</td><td>1</td><td class="o">50</td><td>1</td><td class="g">50</td><td class="n">50</td></tr>
<tr class="d"><td>1</td><td>16</td><td>3</td><td>1</td><td>1</td><td><i style="width:28px"></i><b>8</b></td><td></td><td></td><td></td><td></td><td></td><td></td><td></td><td>1</td><td class="g">51</td><td class="t">51</td><td>3</td><td>2</td><td>1</td><td class="g">51</td><td class="t">51</td><td>2</td><td>1</td><td class="g">51</td><td>2</td><td>1</td><td class="b">51</td><td>3</td><td>2</td><td>1</td><td class="t">51</td><td class="g">51</td><td>16</td><td>15</td><td>14</td><td>13</td><td>12</td><td>11</td><td>10</td><td>9</td><td>8</td><td>7</td><td>6</td><td class="n">51</td><td class="z" rowspan="10">六区</td></tr>
<tr class="d"><td>0</td><td>19</td><td>3</td><td>4</td><td>0</td><td><i style="width:28px"></i><b>8</b></td><td></td><td></td><td></td><td></td><td></td><td></td><td></td><td class="g">52</td><td>4</td><td>3</td><td>2</td><td>1</td><td class="g">52</td><td>1</td><td class="g">52</td><td>2</td><td>1</td><td class="t">52</td><td class="g">52</td><td>2</td><td>1</td><td class="b">52</td><td>2</td><td>1</td><td class="g">52</td><td>8</td><td>7</td><td>6</td><td>5</td><td>4</td><td>3</td><td>2</td><td>1</td><td class="r">52</td><td>19</td><td>18</td><td>17</td><td class="n">52</td></tr>
<tr class="d"><td>15</td><td>20</td><td>4</td><td>5</td><td>5</td><td><i style="width:21px"></i><b>6</b></td><td></td><td></td><td></td><td></td><td></td><td></td><td></td><td>5</td><td>4</td><td>3</td><td>2</td><td>1</td><td class="t">53</td><td class="g">53</td><td>4</td><td>3</td><td>2</td><td>1</td><td class="o">53</td><td>1</td><td class="b">53</td><td>1</td><td class="b">53</td><td>3</td><td>2</td><td>1</td><td class="g">53</td><td>11</td><td>10</td><td>9</td><td>8</td><td>7</td><td>6</td><td>5</td><td>4</td><td>3</td><td>2</td><td class="n">53</td></tr>
<tr class="d"><td>11</td><td>18</td><td>3</td><td>2</td><td>3</td><td><i style="width:24px"></i><b>7</b></td><td></td><td></td><td></td><td></td><td></td><td></td><td></td><td>3</td><td>2</td><td>1</td><td class="r">54</td><td>8</td><td>7</td><td>6</td><td>5</td><td>4</td><td>3</td><td>2</td><td>1</td><td class="b">54</td><td>6</td><td>5</td><td>4</td><td>3</td><td>2</td><td>1</td><td class="o">54</td><td class="g">54</td><td class="b">54</td><td class="b">54</td><td>6</td><td>5</td><td>4</td><td>3</td><td>2</td><td>1</td><td class="r">54</td><td class="n">54</td></tr>
<tr class="d"><td>24</td><td>26</td><td>8</td><td>16</td><td>8</td><td><i style="width:7px"></i><b>2</b></td><td></td><td></td><td></td><td></td><td></td><td></td><td></td><td>8</td><td>7</td><td>6</td><td>5</td><td>4</td><td>3</td><td>2</td><td>1</td><td class="r">55</td><td>16</td><td>15</td><td>14</td><td>13</td><td>12</td><td>11</td><td>10</td><td>9</td><td>8</td><td>7</td><td>6</td><td>5</td><td>4</td><td>3</td><td>2</td><td>1</td><td class="o">55</td><td>6</td><td>5</td><td>4</td><td>3</td><td class="n">55</td></tr>
<tr class="d"><td>1</td><td>17</td><td>3</td><td>2</td><td>1</td><td><i style="width:31px"></i><b>9</b></td><td></td><td></td><td></td><td></td><td></td><td></td><td></td><td>1</td><td class="r">56</td><td>2</td><td>1</td><td class="g">56</td><td>5</td><td>4</td><td>3</td><td>2</td><td>1</td><td class="t">56</td><td class="t">56</td><td>2</td><td>1</td><td class="r">56</td><td>5</td><td>4</td><td>3</td><td>2</td><td>1</td><td class="t">56</td><td class="t">56</td><td>1</td><td class="r">56</td><td>1</td><td class="o">56</td><td>5</td><td>4</td><td>3</td><td>2</td><td class="n">56</td></tr>
<tr class="d"><td>11</td><td>22</td><td>4</td><td>1</td><td>3</td><td><i style="width:17px"></i><b>5</b></td><td></td><td></td><td></td><td></td><td></td><td></td><td></td><td>3</td><td>2</td><td>1</td><td class="g">57</td><td>4</td><td>3</td><td>2</td><td>1</td><td class="g">57</td><td>7</td><td>6</td><td>5</td><td>4</td><td>3</td><td>2</td><td>1</td><td class="t">57</td><td class="t">57</td><td>10</td><td>9</td><td>8</td><td>7</td><td>6</td><td>5</td><td>4</td><td>3</td><td>2</td><td>1</td><td class="b">57</td><td>6</td><td class="n">57</td></tr>
<tr class="d"><td>14</td><td>18</td><td>3</td><td>1</td><td>5</td><td><i style="width:24px"></i><b>7</b></td><td></td><td></td><td></td><td></td><td></td><td></td><td></td><td>5</td><td>4</td><td>3</td><td>2</td><td>1</td><td class="o">58</td><td>1</td><td class="g">58</td><td>1</td><td class="g">58</td><td>1</td><td class="t">58</td><td class="t">58</td><td>8</td><td>7</td><td>6</td><td>5</td><td>4</td><td>3</td><td>2</td><td>1</td><td class="o">58</td><td>5</td><td>4</td><td>3</td><td>2</td><td>1</td><td class="b">58</td><td>5</td><td>4</td><td class="n">58</td></tr>
<tr class="d"><td>1</td><td>19</td><td>3</td><td>2</td><td>1</td><td><i style="width:28px"></i><b>8</b></td><td></td><td></td><td></td><td></td><td></td><td></td><td></td><td>1</td><td class="g">59</td><td class="t">59</td><td>2</td><td>1</td><td class="g">59</td><td>2</td><td>1</td><td class="g">59</td><td>12</td><td>11</td><td>10</td><td>9</td><td>8</td><td>7</td><td>6</td><td>5</td><td>4</td><td>3</td><td>2</td><td>1</td><td class="o">59</td><td>2</td><td>1</td><td class="g">59</td><td class="g">59</td><td class="b">59</td><td>3</td><td>2</td><td>1</td><td class="n">59</td></tr>
<tr class="d"><td>0</td><td>21</td><td>3</td><td>3</td><td>0</td><td><i style="width:17px"></i><b>5</b></td><td></td><td></td><td></td><td></td><td></td><td></td><td></td><td class="g">60</td><td>3</td><td>2</td><td>1</td><td class="g">60</td><td>7</td><td>6</td><td>5</td><td>4</td><td>3</td><td>2</td><td>1</td><td class="g">60</td><td>11</td><td>10</td><td>9</td><td>8</td><td>7</td><td>6</td><td>5</td><td>4</td><td>3</td><td>2</td><td>1</td><td class="g">60</td><td class="g">60</td><td>4</td><td>3</td><td>2</td><td>1</td><td class="n">60</td></tr>
<tr class="d"><td>03</td><td>18</td><td>3</td><td>1</td><td>1</td><td><i style="width:24px"></i><b>7</b></td><td></td><td></td><td></td><td></td><td></td><td></td><td></td><td>1</td><td class="g">61</td><td>2</td><td>1</td><td class="g">61</td><td>8</td><td>7</td><td>6</td><td>5</td><td>4</td><td>3</td><td>2</td><td>1</td><td class="g">61</td><td>2</td><td>1</td><td class="t">61</td><td class="t">61</td><td>4</td><td>3</td><td>2</td><td>1</td><td class="r">61</td><td>1</td><td class="b">61</td><td>5</td><td>4</td><td>3</td><td>2</td><td>1</td><td class="n">61</td><td class="z" rowspan="10">七区</td></tr>
<tr class="d"><td>04</td><td>17</td><td>3</td><td>2</td><td>1</td><td><i style="width:28px"></i><b>8</b></td><td></td><td></td><td></td><td></td><td></td><td></td><td></td><td>1</td><td class="b">62</td><td>1</td><td class="g">62</td><td class="t">62</td><td>2</td><td>1</td><td class="b">62</td><td>1</td><td class="g">62</td><td class="t">62</td><td>13</td><td>12</td><td>11</td><td>10</td><td>9</td><td>8</td><td>7</td><td>6</td><td>5</td><td>4</td><td>3</td><td>2</td><td>1</td><td class="b">62</td><td>3</td><td>2</td><td>1</td><td class="g">62</td><td>2</td><td class="n">62</td></tr>
<tr class="d"><td>04</td><td>16</td><td>3</td><td>1</td><td>1</td><td><i style="width:31px"></i><b>9</b></td><td></td><td></td><td></td><td></td><td></td><td></td><td></td><td>1</td><td class="g">63</td><td>2</td><td>1</td><td class="g">63</td><td class="g">63</td><td>2</td><td>1</td><td class="g">63</td><td>7</td><td>6</td><td>5</td><td>4</td><td>3</td><td>2</td><td>1</td><td class="g">63</td><td>3</td><td>2</td><td>1</td><td class="g">63</td><td>6</td><td>5</td><td>4</td><td>3</td><td>2</td><td>1</td><td class="g">63</td><td class="b">63</td><td class="g">63</td><td class="n">63</td></tr>
<tr class="d"><td>07</td><td>19</td><td>2</td><td>1</td><td>2</td><td><i style="width:48px"></i><b>14</b></td><td></td><td></td><td></td><td></td><td></td><td></td><td></td><td>2</td><td>1</td><td class="g">64</td><td class="g">64</td><td class="g">64</td><td>1</td><td class="b">64</td><td>2</td><td>1</td><td class="b">64</td><td>1</td><td class="o">64</td><td>1</td><td class="b">64</td><td class="g">64</td><td class="g">64</td><td>2</td><td>1</td><td class="g">64</td><td class="g">64</td><td>2</td><td>1</td><td class="g">64</td><td>5</td><td>4</td><td>3</td><td>2</td><td>1</td><td class="g">64</td><td class="t">64</td><td class="n">64</td></tr>
<tr class="d"><td>32</td><td>20</td><td>3</td><td>2</td><td>11</td><td><i style="width:21px"></i><b>6</b></td><td></td><td></td><td></td><td></td><td></td><td></td><td></td><td>11</td><td>10</td><td>9</td><td>8</td><td>7</td><td>6</td><td>5</td><td>4</td><td>3</td><td>2</td><td>1</td><td class="o">65</td><td>1</td><td class="g">65</td><td>2</td><td>1</td><td class="g">65</td><td>2</td><td>1</td><td class="g">65</td><td>1</td><td class="g">65</td><td>5</td><td>4</td><td>3</td><td>2</td><td>1</td><td class="g">65</td><td>2</td><td>1</td><td class="n">65</td></tr>
<tr class="d"><td>0</td><td>18</td><td>4</td><td>12</td><td>0</td><td><i style="width:17px"></i><b>5</b></td><td></td><td></td><td></td><td></td><td></td><td></td><td></td><td class="r">66</td><td>12</td><td>11</td><td>10</td><td>9</td><td>8</td><td>7</td><td>6</td><td>5</td><td>4</td><td>3</td><td>2</td><td>1</td><td class="t">66</td><td class="t">66</td><td>3</td><td>2</td><td>1</td><td class="g">66</td><td>9</td><td>8</td><td>7</td><td>6</td><td>5</td><td>4</td><td>3</td><td>2</td><td>1</td><td class="g">66</td><td>3</td><td class="n">66</td></tr>
<tr class="d"><td>23</td><td>20</td><td>3</td><td>1</td><td>7</td><td><i style="width:21px"></i><b>6</b></td><td></td><td></td><td></td><td></td><td></td><td></td><td></td><td>7</td><td>6</td><td>5</td><td>4</td><td>3</td><td>2</td><td>1</td><td class="g">67</td><td>1</td><td class="g">67</td><td class="t">67</td><td>4</td><td>3</td><td>2</td><td>1</td><td class="t">67</td><td class="g">67</td><td>11</td><td>10</td><td>9</td><td>8</td><td>7</td><td>6</td><td>5</td><td>4</td><td>3</td><td>2</td><td>1</td><td class="o">67</td><td>1</td><td class="n">67</td></tr>
<tr class="d"><td>16</td><td>16</td><td>3</td><td>7</td><td>6</td><td><i style="width:28px"></i><b>8</b></td><td></td><td></td><td></td><td></td><td></td><td></td><td></td><td>6</td><td>5</td><td>4</td><td>3</td><td>2</td><td>1</td><td class="g">68</td><td>1</td><td class="g">68</td><td>7</td><td>6</td><td>5</td><td>4</td><td>3</td><td>2</td><td>1</td><td class="b">68</td><td class="g">68</td><td class="b">68</td><td>6</td><td>5</td><td>4</td><td>3</td><td>2</td><td>1</td><td class="t">68</td><td class="t">68</td><td>2</td><td>1</td><td class="o">68</td><td class="n">68</td></tr>
<tr class="d"><td>0</td><td>16</td><td>3</td><td>2</td><td>0</td><td><i style="width:31px"></i><b>9</b></td><td></td><td></td><td></td><td></td><td></td><td></td><td></td><td class="r">69</td><td>2</td><td>1</td><td class="r">69</td><td>2</td><td>1</td><td class="o">69</td><td>9</td><td>8</td><td>7</td><td>6</td><td>5</td><td>4</td><td>3</td><td>2</td><td>1</td><td class="g">69</td><td class="t">69</td><td>3</td><td>2</td><td>1</td><td class="g">69</td><td class="t">69</td><td>5</td><td>4</td><td>3</td><td>2</td><td>1</td><td class="b">69</td><td class="o">69</td><td class="n">69</td></tr>
<tr class="d"><td>42</td><td>28</td><td>7</td><td>13</td><td>13</td><td><i style="width:14px"></i><b>4</b></td><td></td><td></td><td></td><td></td><td></td><td></td><td></td><td>13</td><td>12</td><td>11</td><td>10</td><td>9</td><td>8</td><td>7</td><td>6</td><td>5</td><td>4</td><td>3</td><td>2</td><td>1</td><td class="g">70</td><td>2</td><td>1</td><td class="b">70</td><td>2</td><td>1</td><td class="t">70</td><td class="g">70</td><td>21</td><td>20</td><td>19</td><td>18</td><td>17</td><td>16</td><td>15</td><td>14</td><td>13</td><td class="n">70</td></tr>
<tr class="d"><td>0</td><td>21</td><td>3</td><td>3</td><td>0</td><td><i style="width:31px"></i><b>9</b></td><td></td><td></td><td></td><td></td><td></td><td></td><td></td><td class="o">71</td><td>3</td><td>2</td><td>1</td><td class="r">71</td><td>3</td><td>2</td><td>1</td><td class="t">71</td><td class="t">71</td><td>3</td><td>2</td><td>1</td><td class="t">71</td><td class="t">71</td><td>5</td><td>4</td><td>3</td><td>2</td><td>1</td><td class="o">71</td><td>2</td><td>1</td><td class="r">71</td><td>1</td><td class="r">71</td><td>8</td><td>7</td><td>6</td><td>5</td><td class="n">71</td><td class="z" rowspan="10">八区</td></tr>
<tr class="d"><td>0</td><td>18</td><td>3</td><td>16</td><td>0</td><td><i style="width:10px"></i><b>3</b></td><td></td><td></td><td></td><td></td><td></td><td></td><td></td><td class="o">72</td><td>16</td><td>15</td><td>14</td><td>13</td><td>12</td><td>11</td><td>10</td><td>9</td><td>8</td><td>7</td><td>6</td><td>5</td><td>4</td><td>3</td><td>2</td><td>1</td><td class="g">72</td><td>3</td><td>2</td><td>1</td><td class="o">72</td><td>11</td><td>10</td><td>9</td><td>8</td><td>7</td><td>6</td><td>5</td><td>4</td><td class="n">72</td></tr>
<tr class="d"><td>17</td><td>19</td><td>3</td><td>1</td><td>5</td><td><i style="width:24px"></i><b>7</b></td><td></td><td></td><td></td><td></td><td></td><td></td><td></td><td>5</td><td>4</td><td>3</td><td>2</td><td>1</td><td class="o">73</td><td>1</td><td class="o">73</td><td>1</td><td class="t">73</td><td class="g">73</td><td>7</td><td>6</td><td>5</td><td>4</td><td>3</td><td>2</td><td>1</td><td class="g">73</td><td>2</td><td>1</td><td class="o">73</td><td>2</td><td>1</td><td class="g">73</td><td>8</td><td>7</td><td>6</td><td>5</td><td>4</td><td class="n">73</td></tr>
<tr class="d"><td>14</td><td>17</td><td>4</td><td>1</td><td>5</td><td><i style="width:24px"></i><b>7</b></td><td></td><td></td><td></td><td></td><td></td><td></td><td></td><td>5</td><td>4</td><td>3</td><td>2</td><td>1</td><td class="g">74</td><td>1</td><td class="g">74</td><td>1</td><td class="g">74</td><td>8</td><td>7</td><td>6</td><td>5</td><td>4</td><td>3</td><td>2</td><td>1</td><td class="o">74</td><td>6</td><td>5</td><td>4</td><td>3</td><td>2</td><td>1</td><td class="g">74</td><td class="t">74</td><td>2</td><td>1</td><td class="r">74</td><td class="n">74</td></tr>
<tr class="d"><td>1</td><td>17</td><td>3</td><td>2</td><td>3</td><td><i style="width:17px"></i><b>5</b></td><td></td><td></td><td></td><td></td><td></td><td></td><td></td><td>3</td><td>2</td><td>1</td><td class="o">75</td><td>2</td><td>1</td><td class="g">75</td><td>4</td><td>3</td><td>2</td><td>1</td><td class="g">75</td><td class="t">75</td><td>8</td><td>7</td><td>6</td><td>5</td><td>4</td><td>3</td><td>2</td><td>1</td><td class="g">75</td><td>10</td><td>9</td><td>8</td><td>7</td><td>6</td><td>5</td><td>4</td><td>3</td><td class="n">75</td></tr>
<tr class="d"><td>03</td><td>32</td><td>4</td><td>1</td><td>1</td><td><i style="width:21px"></i><b>6</b></td><td></td><td></td><td></td><td></td><td></td><td></td><td></td><td>1</td><td class="g">76</td><td>1</td><td class="g">76</td><td>6</td><td>5</td><td>4</td><td>3</td><td>2</td><td>1</td><td class="g">76</td><td>4</td><td>3</td><td>2</td><td>1</td><td class="g">76</td><td>4</td><td>3</td><td>2</td><td>1</td><td class="g">76</td><td>2</td><td>1</td><td class="r">76</td><td>6</td><td>5</td><td>4</td><td>3</td><td>2</td><td>1</td><td class="n">76</td></tr>
<tr class="d"><td>07</td><td>16</td><td>3</td><td>1</td><td>2</td><td><i style="width:24px"></i><b>7</b></td><td></td><td></td><td></td><td></td><td></td><td></td><td></td><td>2</td><td>1</td><td class="g">77</td><td>1</td><td class="g">77</td><td>5</td><td>4</td><td>3</td><td>2</td><td>1</td><td class="g">77</td><td>5</td><td>4</td><td>3</td><td>2</td><td>1</td><td class="g">77</td><td>8</td><td>7</td><td>6</td><td>5</td><td>4</td><td>3</td><td>2</td><td>1</td><td class="t">77</td><td class="t">77</td><td>1</td><td class="r">77</td><td>2</td><td class="n">77</td></tr>
<tr class="d"><td>08</td><td>24</td><td>3</td><td>3</td><td>2</td><td><i style="width:28px"></i><b>8</b></td><td></td><td></td><td></td><td></td><td></td><td></td><td></td><td>2</td><td>1</td><td class="g">78</td><td>3</td><td>2</td><td>1</td><td class="r">78</td><td>2</td><td>1</td><td class="g">78</td><td>1</td><td class="g">78</td><td>1</td><td class="b">78</td><td class="b">78</td><td class="g">78</td><td>6</td><td>5</td><td>4</td><td>3</td><td>2</td><td>1</td><td class="r">78</td><td>7</td><td>6</td><td>5</td><td>4</td><td>3</td><td>2</td><td>1</td><td class="n">78</td></tr>
<tr class="d"><td>0</td><td>26</td><td>3</td><td>1</td><td>0</td><td><i style="width:14px"></i><b>4</b></td><td></td><td></td><td></td><td></td><td></td><td></td><td></td><td class="g">79</td><td>1</td><td class="g">79</td><td class="g">79</td><td>15</td><td>14</td><td>13</td><td>12</td><td>11</td><td>10</td><td>9</td><td>8</td><td>7</td><td>6</td><td>5</td><td>4</td><td>3</td><td>2</td><td>1</td><td class="o">79</td><td>14</td><td>13</td><td>12</td><td>11</td><td>10</td><td>9</td><td>8</td><td>7</td><td>6</td><td>5</td><td class="n">79</td></tr>
<tr class="d"><td>03</td><td>21</td><td>3</td><td>1</td><td>1</td><td><i style="width:28px"></i><b>8</b></td><td></td><td></td><td></td><td></td><td></td><td></td><td></td><td>1</td><td class="g">80</td><td>1</td><td class="g">80</td><td>1</td><td class="r">80</td><td>2</td><td>1</td><td class="r">80</td><td>5</td><td>4</td><td>3</td><td>2</td><td>1</td><td class="t">80</td><td class="t">80</td><td>3</td><td>2</td><td>1</td><td class="o">80</td><td>5</td><td>4</td><td>3</td><td>2</td><td>1</td><td class="r">80</td><td>4</td><td>3</td><td>2</td><td>1</td><td class="n">80</td></tr>
<tr class="bt" style="height:36px"><td></td><td></td><td></td><td></td><td></td><td class="w"></td><td class="w"></td><td class="w"></td><td class="w"></td><td class="w"></td><td class="w"></td><td class="w"></td><td class="w"></td><td>827</td><td>797</td><td>720</td><td>906</td><td>776</td><td>816</td><td>775</td><td>852</td><td>824</td><td>856</td><td>790</td><td>645</td><td>614</td><td>861</td><td>777</td><td>842</td><td>807</td><td>727</td><td>810</td><td>762</td><td>819</td><td>895</td><td>674</td><td>652</td><td>752</td><td>916</td><td>618</td><td>665</td><td>806</td><td>725</td><td class="n">和值</td><td class="z" colspan="2" rowspan="2"></td></tr>
<tr class="bt" style="height:38px"><td></td><td></td><td></td><td></td><td></td><td class="w"></td><td class="w"></td><td class="w"></td><td class="w"></td><td class="w"></td><td class="w"></td><td class="w"></td><td class="w"></td><td>7:13</td><td>11:9</td><td>10:10</td><td>10:10</td><td>10:10</td><td>10:10</td><td>9:11</td><td>8:12</td><td>11:9</td><td>8:12</td><td>8:12</td><td>9:11</td><td>10:10</td><td>11:9</td><td>11:9</td><td>8:12</td><td>13:7</td><td>11:9</td><td>8:12</td><td>8:12</td><td>7:13</td><td>11:9</td><td>8:12</td><td>8:12</td><td>14:6</td><td>10:10</td><td>12:8</td><td>11:9</td><td>12:8</td><td>11:9</td><td class="n">奇偶</td></tr>
</table>
<div class="ov" style="left:989px;top:700px;color:#e00;font-weight:bold;font-size:15px;line-height:20px">前区开奖号码</div>
<div class="ov" style="left:979px;top:1855px;color:#e00;font-weight:bold;font-size:15px;line-height:20px">指标区</div>
<div class="ov" style="left:180px;top:732px;font-size:14px;line-height:16px;color:#000"><span style="color:#e00">2022316</span>期销售还剩23小时05分26秒</div>
<div class="btn" style="left:178px;top:973px;height:83px">机选号码</div>
<div class="btn" style="left:178px;top:1073px;height:85px">清空选号</div>
<div class="ov" style="left:182px;top:1882px;color:#00f;font-size:13px;line-height:14px;text-decoration:underline">工具</div>
</body></html>
